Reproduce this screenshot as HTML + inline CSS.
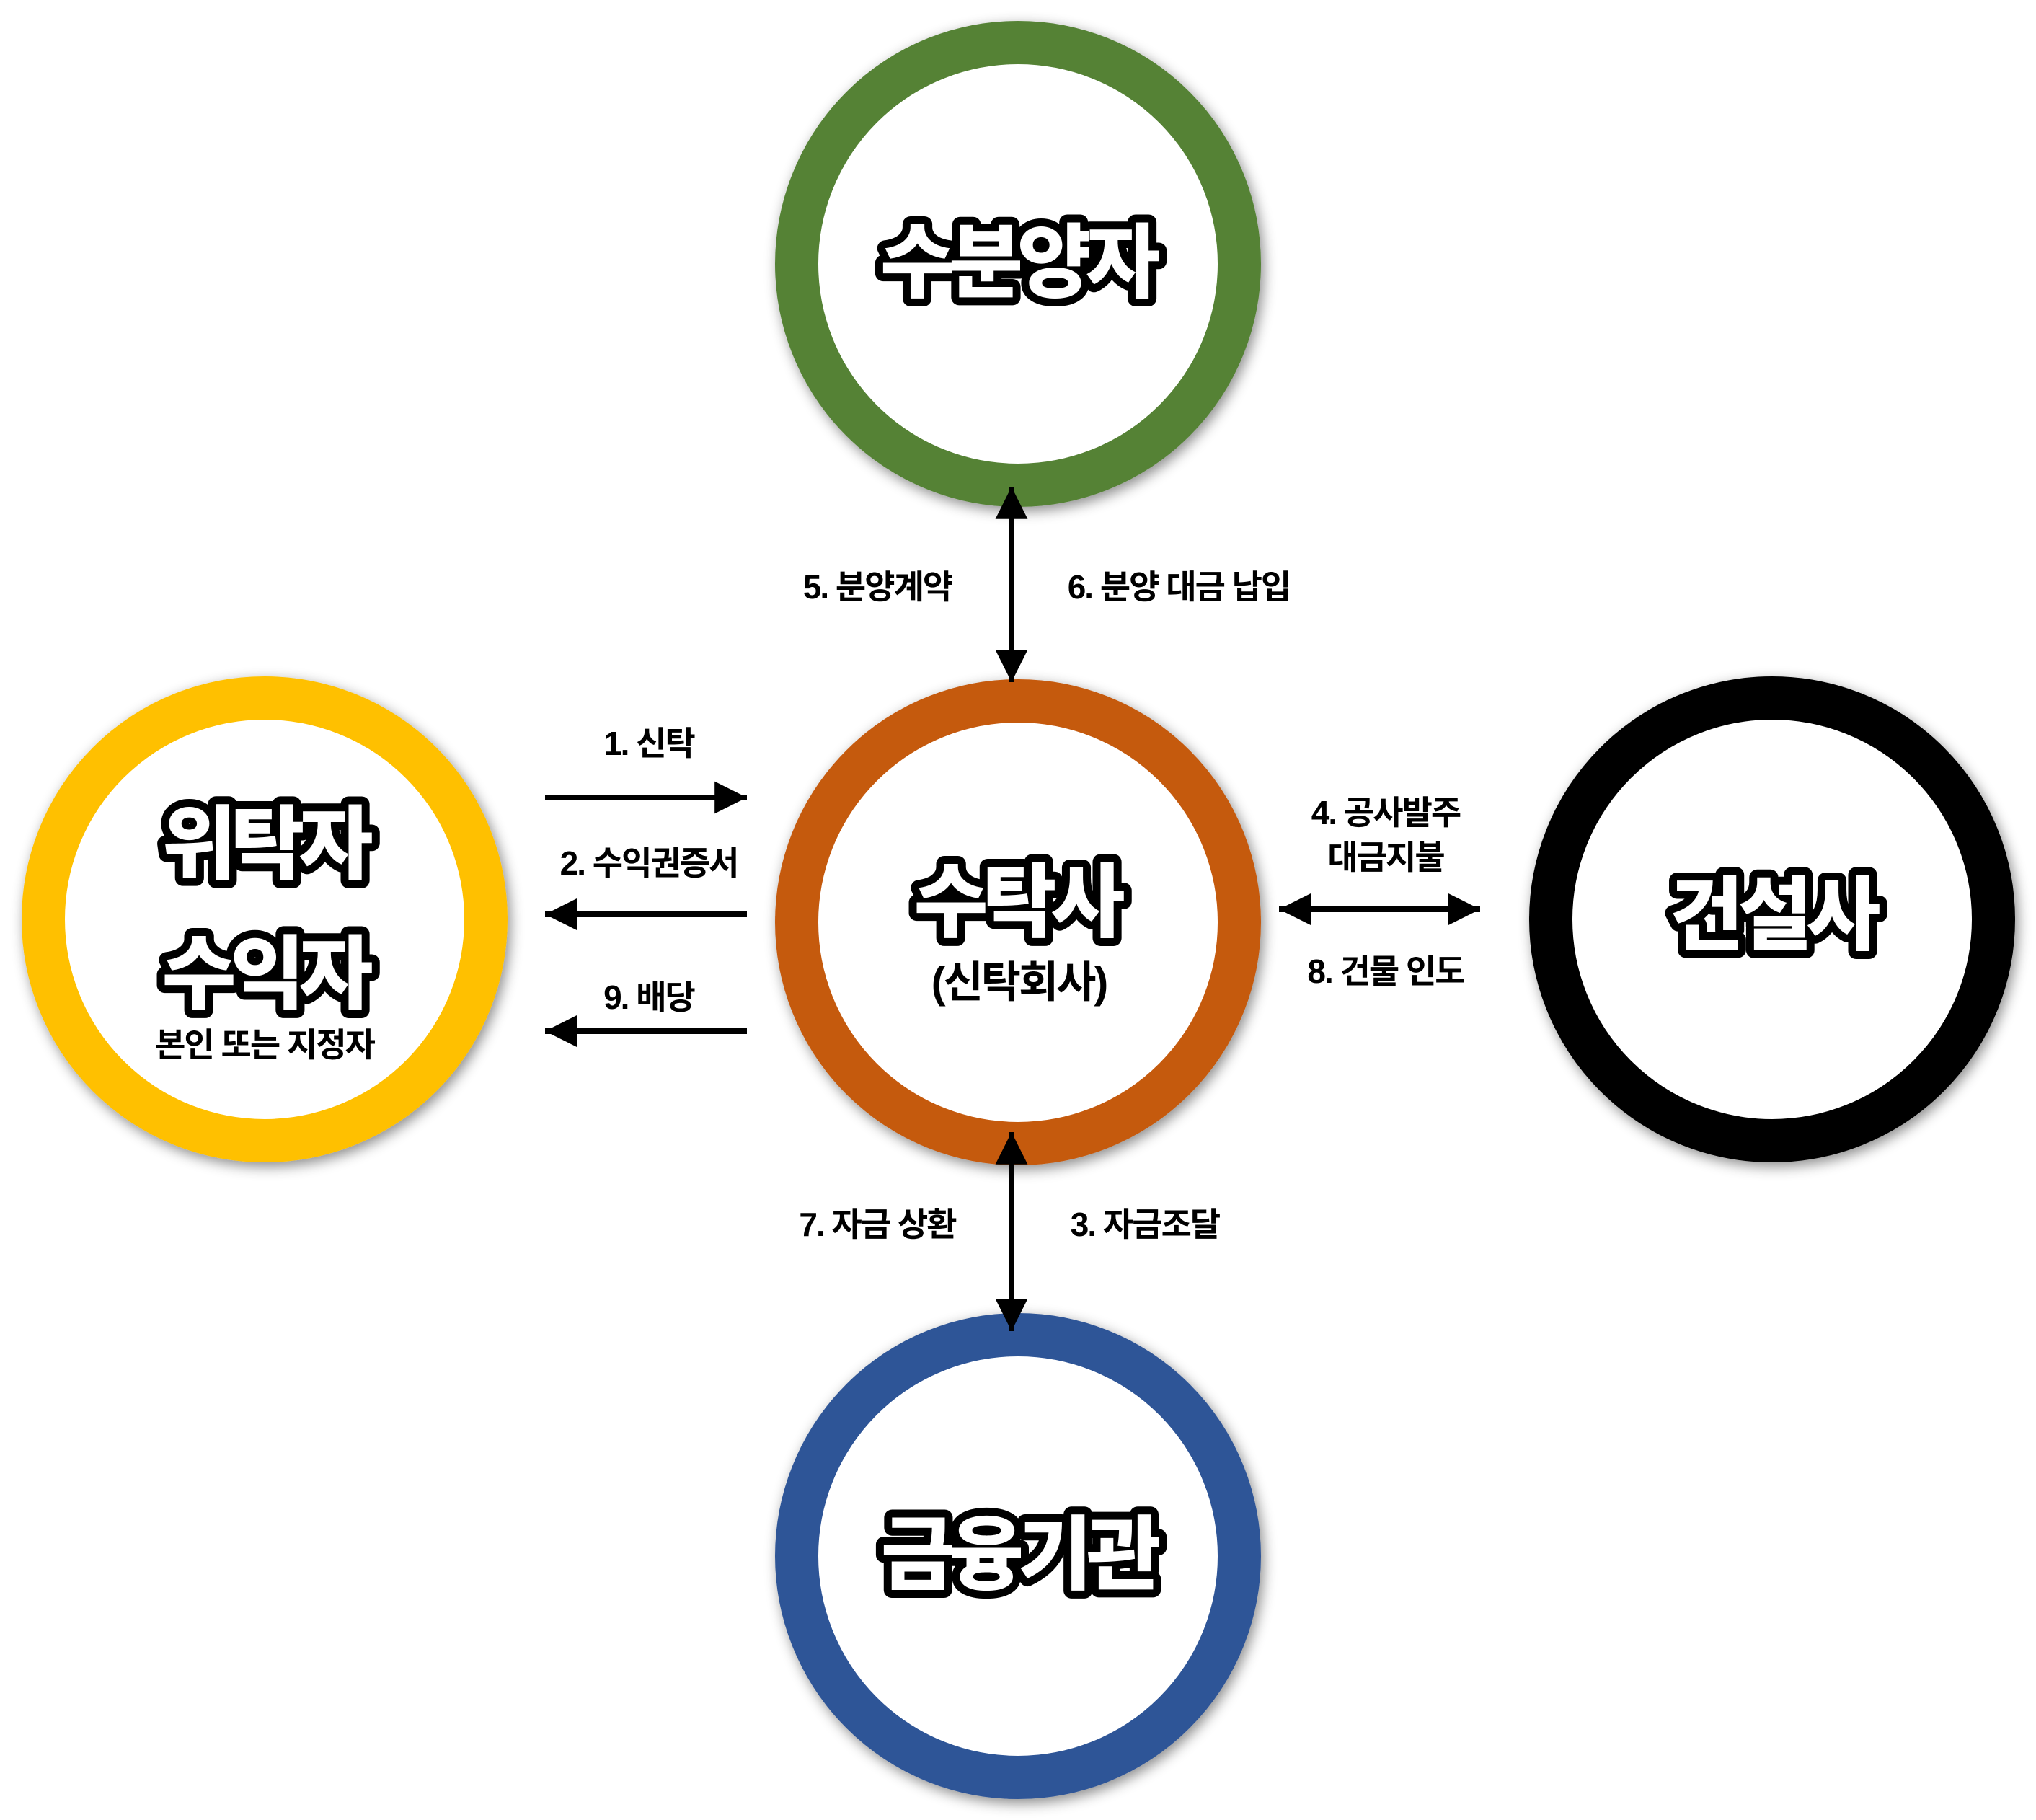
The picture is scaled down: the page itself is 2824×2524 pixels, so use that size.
<!DOCTYPE html>
<html><head><meta charset="utf-8"><style>
html,body{margin:0;padding:0;background:#fff;}
svg{display:block}
.big{font-family:"Liberation Sans","Noto Sans CJK KR",sans-serif;font-weight:900;font-size:112px;fill:#fff;stroke:#000;stroke-width:22px;stroke-linejoin:round;paint-order:stroke fill;letter-spacing:-8px}
.lb{font-family:"Liberation Sans","Noto Sans CJK KR",sans-serif;font-weight:700;font-size:46px;fill:#000;letter-spacing:-2px}
.sub{font-family:"Liberation Sans","Noto Sans CJK KR",sans-serif;font-weight:700;font-size:60px;fill:#000;letter-spacing:-3px}
</style></head><body>
<svg width="2824" height="2524" viewBox="0 0 2824 2524" xmlns="http://www.w3.org/2000/svg">
<defs>
<filter id="sh" x="-20%" y="-20%" width="140%" height="140%"><feDropShadow dx="4" dy="6" stdDeviation="9" flood-color="#000" flood-opacity="0.45"/></filter>
<marker id="ah" viewBox="0 0 10 10" refX="10" refY="5" markerWidth="5.6" markerHeight="5.6" orient="auto-start-reverse" markerUnits="strokeWidth"><path d="M0,0 L10,5 L0,10 z" fill="#000"/></marker>
</defs>
<g filter="url(#sh)" fill="#fff" stroke-width="60">
<circle cx="1412" cy="366" r="307" stroke="#548235"/>
<circle cx="1412" cy="1279" r="307" stroke="#C55A11"/>
<circle cx="367" cy="1275" r="307" stroke="#FFC000"/>
<circle cx="2458" cy="1275" r="307" stroke="#000"/>
<circle cx="1412" cy="2158" r="307" stroke="#2F5597"/>
</g>
<g stroke="#000" stroke-width="8" fill="none">
<line x1="756" y1="1106" x2="1036" y2="1106" marker-end="url(#ah)"/>
<line x1="1036" y1="1268" x2="756" y2="1268" marker-end="url(#ah)"/>
<line x1="1036" y1="1430" x2="756" y2="1430" marker-end="url(#ah)"/>
<line x1="1403" y1="675" x2="1403" y2="946" marker-start="url(#ah)" marker-end="url(#ah)"/>
<line x1="1403" y1="1570" x2="1403" y2="1846" marker-start="url(#ah)" marker-end="url(#ah)"/>
<line x1="1774" y1="1261" x2="2053" y2="1261" marker-start="url(#ah)" marker-end="url(#ah)"/>
</g>
<g text-anchor="middle">
<text class="big" x="1411" y="403">수분양자</text>
<text class="big" x="1410" y="1290">수탁사</text>
<text class="sub" x="1413" y="1383">(신탁회사)</text>
<text class="big" x="367" y="1210">위탁자</text>
<text class="big" x="367" y="1390">수익자</text>
<text class="lb" x="367" y="1465">본인 또는 지정자</text>
<text class="big" x="2458" y="1308">건설사</text>
<text class="big" x="1412" y="2195">금융기관</text>
<text class="lb" x="900" y="1047">1. 신탁</text>
<text class="lb" x="900" y="1213">2. 수익권증서</text>
<text class="lb" x="900" y="1399">9. 배당</text>
<text class="lb" x="1217" y="830">5. 분양계약</text>
<text class="lb" x="1635" y="830">6. 분양 대금 납입</text>
<text class="lb" x="1217" y="1714">7. 자금 상환</text>
<text class="lb" x="1588" y="1714">3. 자금조달</text>
<text class="lb" x="1922" y="1143">4. 공사발주</text>
<text class="lb" x="1922" y="1205">대금지불</text>
<text class="lb" x="1922" y="1363">8. 건물 인도</text>
</g>
</svg>
</body></html>
